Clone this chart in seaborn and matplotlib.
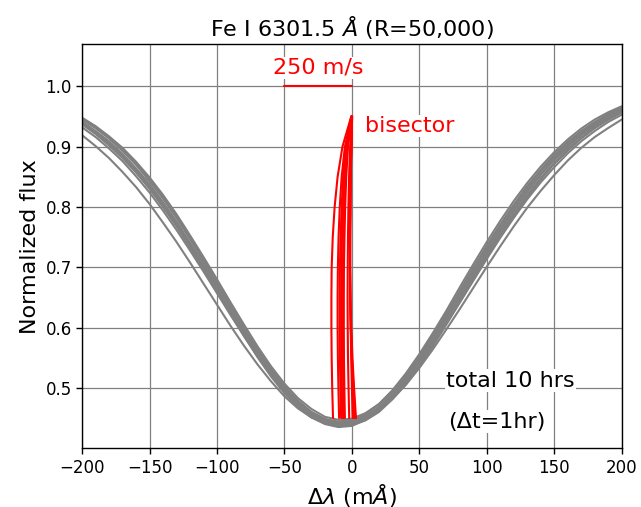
import pandas as pd
import matplotlib
matplotlib.use("Agg")
import matplotlib.pyplot as plt
import seaborn as sns

# wavelength offsets (mA)
dlam = list(range(-200, 201, 10))
# normalized flux x 1000, one profile per hour (0..10)
flux_h0 = [947, 933, 916, 896, 872, 846, 816, 784, 749, 712, 674, 636, 598, 563, 530, 501, 477, 460, 448, 444, 447, 457, 473, 496, 524, 556, 591, 628, 667, 705, 742, 777, 810, 840, 867, 891, 912, 930, 945, 957, 967]
flux_h1 = [938, 922, 904, 883, 859, 831, 801, 769, 734, 698, 661, 624, 588, 553, 522, 494, 471, 454, 443, 438, 440, 449, 464, 484, 510, 540, 574, 609, 646, 683, 720, 755, 789, 820, 848, 873, 896, 915, 932, 946, 958]
flux_h2 = [945, 931, 914, 894, 871, 844, 815, 783, 749, 712, 675, 637, 600, 564, 532, 503, 479, 460, 448, 442, 444, 452, 467, 488, 514, 544, 578, 615, 652, 690, 727, 763, 796, 827, 855, 880, 902, 921, 937, 951, 962]
flux_h3 = [940, 924, 906, 885, 861, 834, 803, 771, 735, 699, 661, 623, 586, 551, 519, 491, 468, 451, 440, 435, 437, 447, 462, 484, 511, 542, 576, 612, 650, 688, 725, 760, 794, 825, 853, 878, 900, 919, 935, 949, 960]
flux_h4 = [948, 934, 917, 898, 875, 849, 820, 788, 753, 717, 680, 642, 605, 569, 536, 507, 483, 465, 452, 447, 449, 458, 473, 494, 521, 552, 587, 623, 661, 699, 736, 771, 804, 835, 862, 887, 908, 926, 941, 954, 965]
flux_h5 = [937, 921, 902, 881, 857, 830, 800, 768, 733, 697, 660, 624, 588, 554, 523, 495, 473, 456, 445, 440, 442, 451, 465, 486, 511, 541, 574, 609, 646, 682, 719, 754, 787, 818, 846, 872, 894, 914, 931, 945, 957]
flux_h6 = [941, 925, 907, 886, 862, 835, 805, 773, 738, 701, 664, 627, 590, 556, 524, 497, 474, 457, 447, 443, 446, 456, 472, 494, 521, 552, 587, 623, 660, 698, 734, 769, 802, 832, 860, 884, 905, 924, 939, 952, 963]
flux_h7 = [941, 926, 909, 888, 864, 838, 808, 776, 741, 705, 668, 630, 594, 559, 526, 498, 474, 455, 443, 437, 438, 446, 460, 481, 506, 536, 569, 605, 642, 679, 716, 752, 786, 817, 846, 872, 894, 914, 931, 945, 957]
flux_h8 = [945, 931, 914, 893, 870, 843, 814, 782, 747, 710, 672, 634, 597, 561, 529, 500, 476, 458, 446, 441, 443, 452, 468, 490, 517, 548, 583, 619, 657, 695, 732, 768, 801, 832, 860, 884, 906, 924, 940, 953, 964]
flux_h9 = [919, 901, 881, 858, 833, 805, 774, 742, 708, 673, 638, 603, 570, 539, 511, 486, 466, 451, 442, 438, 440, 449, 463, 482, 505, 533, 564, 597, 631, 666, 701, 735, 768, 799, 827, 853, 877, 898, 916, 931, 945]
flux_h10 = [932, 916, 897, 876, 851, 824, 794, 762, 728, 693, 657, 621, 586, 553, 523, 496, 475, 458, 448, 443, 445, 453, 467, 487, 512, 540, 572, 607, 642, 678, 714, 749, 782, 813, 841, 866, 889, 909, 926, 941, 953]
profiles = [flux_h0, flux_h1, flux_h2, flux_h3, flux_h4, flux_h5, flux_h6, flux_h7, flux_h8, flux_h9, flux_h10]

# bisector flux levels and displayed bisector positions (mA) per hour
levels = [0.45, 0.50, 0.55, 0.60, 0.65, 0.70, 0.75, 0.80, 0.85, 0.90, 0.95]
bis_h0 = [-14.0, -14.6, -15.0, -15.2, -15.2, -15.0, -14.2, -12.8, -10.6, -7.0, -0.5]
bis_h1 = [-9.5, -10.0, -10.4, -10.6, -10.6, -10.4, -9.9, -9.0, -7.6, -5.2, -0.4]
bis_h2 = [-8.0, -8.5, -8.9, -9.1, -9.1, -8.9, -8.4, -7.6, -6.5, -4.4, -0.3]
bis_h3 = [-7.0, -7.5, -7.8, -8.0, -8.0, -7.8, -7.4, -6.7, -5.7, -3.9, -0.3]
bis_h4 = [-6.0, -6.4, -6.7, -6.9, -6.9, -6.7, -6.3, -5.7, -4.8, -3.3, -0.2]
bis_h5 = [-5.2, -5.6, -5.9, -6.0, -6.0, -5.9, -5.5, -5.0, -4.2, -2.9, -0.2]
bis_h6 = [-2.0, -2.5, -2.9, -3.1, -3.2, -3.1, -2.9, -2.6, -2.1, -1.3, -0.1]
bis_h7 = [0.5, 0.0, -0.5, -0.9, -1.1, -1.2, -1.1, -1.0, -0.8, -0.4, 0.0]
bis_h8 = [1.5, 0.6, -0.2, -0.8, -1.2, -1.4, -1.4, -1.2, -0.9, -0.4, 0.1]
bis_h9 = [2.5, 1.2, 0.0, -0.8, -1.3, -1.5, -1.5, -1.3, -1.0, -0.5, 0.1]
bis_h10 = [3.0, 1.6, 0.4, -0.5, -1.1, -1.4, -1.5, -1.3, -1.0, -0.5, 0.2]
bisectors = [bis_h0, bis_h1, bis_h2, bis_h3, bis_h4, bis_h5, bis_h6, bis_h7, bis_h8, bis_h9, bis_h10]

xticks = [-200, -150, -100, -50, 0, 50, 100, 150, 200]
yticks = [0.5, 0.6, 0.7, 0.8, 0.9, 1.0]

sns.set_style("white")
plt.rcParams.update({"text.color": "black", "axes.labelcolor": "black",
                     "xtick.color": "black", "ytick.color": "black",
                     "font.family": ["DejaVu Sans"]})
fig = plt.figure(figsize=(6.41, 5.07), dpi=100)
ax = fig.add_axes([0.128, 0.116, 0.842, 0.797])

prof_df = pd.DataFrame([(h, x, f / 1000) for h, p in enumerate(profiles) for x, f in zip(dlam, p)],
                       columns=["hour", "dlam", "flux"])
sns.lineplot(data=prof_df, x="dlam", y="flux", units="hour", estimator=None,
             color="gray", lw=1.5, ax=ax)
bis_df = pd.DataFrame([(h, x, f) for h, b in enumerate(bisectors) for x, f in zip(b, levels)],
                      columns=["hour", "dlam", "flux"])
sns.lineplot(data=bis_df, x="dlam", y="flux", units="hour", estimator=None, sort=False,
             color="red", lw=1.5, ax=ax)

ax.plot([-50, 0], [1.0, 1.0], color="red", lw=1.5)
ax.text(-25, 1.014, "250 m/s", color="red", fontsize=16, ha="center", va="bottom",
        bbox=dict(facecolor="white", edgecolor="none", pad=1))
ax.text(10, 0.934, "bisector", color="red", fontsize=16, ha="left", va="center",
        bbox=dict(facecolor="white", edgecolor="none", pad=1))
ax.text(70, 0.512, "total 10 hrs", color="black", fontsize=16, ha="left", va="center",
        bbox=dict(facecolor="white", edgecolor="none", pad=1))
ax.text(71, 0.444, "(Δt=1hr)", color="black", fontsize=16, ha="left", va="center",
        bbox=dict(facecolor="white", edgecolor="none", pad=1))

ax.set_xlim(-200, 200)
ax.set_ylim(0.40, 1.07)
ax.set_xticks(xticks)
ax.set_yticks(yticks)
ax.grid(True, color="gray", lw=0.9)
ax.set_axisbelow(True)
ax.tick_params(axis="both", labelsize=12, direction="out", length=4, width=1, left=True, bottom=True)
for sp in ax.spines.values():
    sp.set_color("black")
    sp.set_linewidth(1)
ax.set_xlabel(r"$\Delta\lambda$ (m$\AA$)", fontsize=16)
ax.set_ylabel("Normalized flux", fontsize=16)
ax.set_title(r"Fe I 6301.5 $\AA$ (R=50,000)", fontsize=16)
fig.savefig("out.png", dpi=100)
